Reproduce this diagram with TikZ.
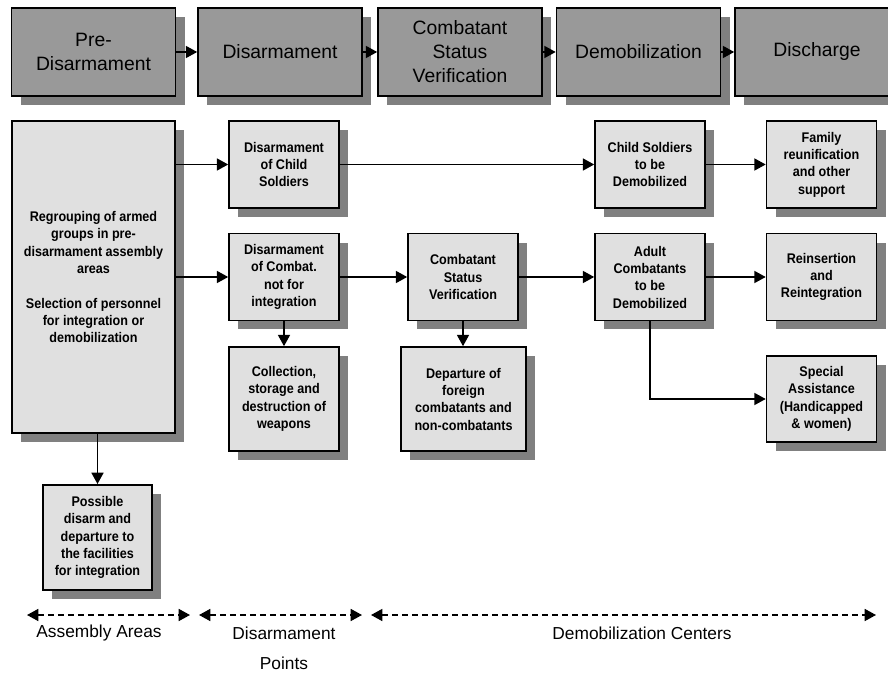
\documentclass[tikz,border=0pt]{standalone}
\usepackage{fontspec}
\setmainfont{Liberation Sans}
\newfontfamily\narrowfont[FakeStretch=0.9]{Liberation Sans}
\usepackage{tikz}
\usepackage{xcolor}
\usetikzlibrary{arrows.meta, shadows}
\definecolor{stagegray}{RGB}{153,153,153}
\definecolor{taskgray}{RGB}{224,224,224}
\definecolor{shadowgray}{RGB}{128,128,128}
\tikzset{DDRChart/.style = {% px grid, y going down
     base/.style = {rectangle, draw, line width=1.2pt, inner sep=0pt, align=center,
                    drop shadow={shadow xshift=6.75pt, shadow yshift=-6.75pt,
                                 fill=shadowgray, opacity=1}},
    stage/.style = {base, fill=stagegray, minimum width=123pt, minimum height=66pt,
                    font=\fontsize{14.5}{18}\selectfont},
  process/.style = {base, fill=taskgray, minimum width=82.5pt, minimum height=65pt,
                    font=\narrowfont\bfseries\fontsize{10.5}{13}\selectfont},
     zone/.style = {align=center, font=\fontsize{13}{22.5}\selectfont},
    arrow/.style = {line width=1.2pt, -{Triangle[length=8.5pt,width=9pt]}},
  spanarr/.style = {line width=1.2pt, dash pattern=on 4.5pt off 3pt,
                    {Triangle[length=8.5pt,width=9pt]}-{Triangle[length=8.5pt,width=9pt]}}}
        }

\begin{document}
\begin{tikzpicture}[DDRChart, x=0.75pt, y=-0.75pt]
\path[use as bounding box, clip] (0,0) rectangle (888,673);

% nodes
\node (stage01) [stage] at (93.5,52) {Pre-\\Disarmament};
\node (stage02) [stage] at (280,52)  {Disarmament};
\node (stage03) [stage] at (460,52)  {Combatant\\Status\\Verification};
\node (stage04) [stage] at (638.5,52) {Demobilization};
\node (stage05) [stage] at (817,52)  {Discharge};

\node (reg)    [process, minimum width=122pt, minimum height=234pt] at (93.5,277)
               {Regrouping of armed\\groups in pre-\\disarmament assembly\\areas\\[13pt]Selection of personnel\\for integration or\\demobilization};
\node (proc01) [process] at (284,164.5) {Disarmament\\of Child\\Soldiers};
\node (proc02) [process] at (284,277)   {Disarmament\\of Combat.\\not for\\integration};
\node (proc03) [process, minimum height=78pt] at (284,399) {Collection,\\storage and\\destruction of\\weapons};
\node (proc04) [process] at (463,277)   {Combatant\\Status\\Verification};
\node (proc05) [process, minimum width=94pt, minimum height=78pt] at (463.5,399)
               {Departure of\\foreign\\combatants and\\non-combatants};
\node (proc06) [process] at (650,164.5) {Child Soldiers\\to be\\Demobilized};
\node (proc07) [process] at (650,277)   {Adult\\Combatants\\to be\\Demobilized};
\node (proc08) [process] at (821.5,164.5) {Family\\reunification\\and other\\support};
\node (proc09) [process] at (821.5,277) {Reinsertion\\and\\Reintegration};
\node (proc10) [process, minimum height=64.5pt] at (821.5,399)
               {Special\\Assistance\\(Handicapped\\\& women)};
\node (poss)   [process, minimum width=82pt, minimum height=79pt] at (97.5,537.5)
               {Possible\\disarm and\\departure to\\the facilities\\for integration};

% zones
\coordinate (zone01a) at (27,615);
\coordinate (zone01b) at (190,615);
\coordinate (zone02a) at (199,615);
\coordinate (zone02b) at (362,615);
\coordinate (zone03a) at (371,615);
\coordinate (zone03b) at (876,615);
\node (area01) [zone] at (99,633)  {Assembly Areas};
\node (area02) [zone, anchor=north] at (284,622) {Disarmament\\Points};
\node (area03) [zone] at (642,633) {Demobilization Centers};

% paths
\foreach \a/\b in {stage01/stage02, stage02/stage03, stage03/stage04, stage04/stage05}
  \draw [arrow] (\a) -- (\b);
\draw [arrow] (reg.east |- proc01) -- (proc01);
\draw [arrow] (reg.east |- proc02) -- (proc02);
\draw [arrow] (proc01) -- (proc06);
\draw [arrow] (proc06) -- (proc08);
\draw [arrow] (proc02) -- (proc04);
\draw [arrow] (proc04) -- (proc07);
\draw [arrow] (proc07) -- (proc09);
\draw [arrow] (proc02) -- (proc03);
\draw [arrow] (proc04) -- (proc04 |- proc05.north);
\draw [arrow] (proc07.south) |- (proc10);
\draw [arrow] (reg.south -| poss) -- (poss);
\draw [spanarr] (zone01a) -- (zone01b);
\draw [spanarr] (zone02a) -- (zone02b);
\draw [spanarr] (zone03a) -- (zone03b);

\end{tikzpicture}
\end{document}
